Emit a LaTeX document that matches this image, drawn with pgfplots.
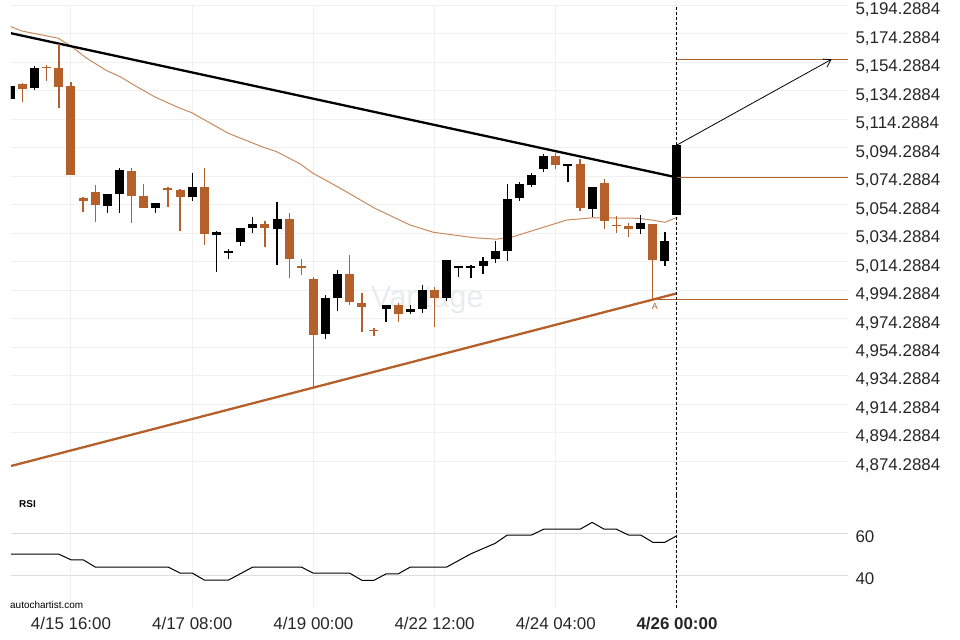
\documentclass[border=0pt]{standalone}
\usepackage{fontspec}
\setmainfont{Liberation Sans}
\usepackage{pgfplots}
\pgfplotsset{compat=1.18}
\usepackage{pgfplotstable}
\usetikzlibrary{arrows.meta}
\definecolor{cOr}{HTML}{B5602A}
\definecolor{cSma}{HTML}{C98A5E}
\definecolor{cGrid}{HTML}{F0F0F0}
\definecolor{cGrid2}{HTML}{DDDDDD}
\definecolor{cWm}{HTML}{E9EBED}

% bullish (black) candles: x, body bottom, body top, low, high
\pgfplotstableread{
x lo hi l h
0 5128.6 5137.8 5127.9 5138.5
2 5136.4 5150.4 5135.0 5151.8
8 5053.5 5061.9 5048.8 5061.9
9 5061.9 5078.8 5048.8 5080.4
12 5052.1 5055.6 5048.8 5055.6
15 5059.8 5066.8 5057.2 5076.4
17 5033.3 5035.2 5007.3 5035.7
18 5020.7 5022.1 5016.4 5023.0
19 5028.4 5038.0 5025.6 5038.0
20 5038.0 5040.8 5034.3 5045.5
22 5037.3 5044.3 5012.2 5056.1
26 4963.5 4988.8 4960.2 4990.7
27 4988.8 5005.7 4979.9 5008.5
31 4980.9 4983.9 4971.8 4983.9
33 4978.8 4981.1 4977.4 4984.1
34 4981.3 4994.4 4978.1 4997.7
36 4989.0 5015.5 4986.7 5015.5
37 5010.1 5011.1 5003.4 5011.1
38 5010.1 5011.1 5002.7 5012.2
39 5011.5 5014.8 5005.7 5017.4
40 5016.4 5022.1 5013.2 5029.1
41 5022.1 5058.4 5015.0 5068.7
42 5059.3 5068.7 5057.2 5070.3
43 5068.2 5075.2 5067.0 5076.9
44 5079.7 5088.6 5077.3 5090.0
46 5081.8 5083.0 5070.1 5083.0
48 5051.6 5066.8 5045.5 5066.8
52 5037.3 5041.5 5033.6 5046.9
54 5015.0 5028.9 5011.5 5035.4
55 5047.3 5096.3 5047.3 5096.3
}\bull

% bearish (orange) candles
\pgfplotstableread{
x lo hi l h
1 5135.7 5139.2 5126.3 5140.1
3 5150.4 5151.1 5141.5 5152.5
4 5137.1 5150.4 5122.1 5167.3
5 5075.2 5137.8 5075.2 5140.4
6 5057.0 5059.1 5049.5 5060.0
7 5054.2 5063.1 5042.4 5068.2
10 5060.5 5078.1 5041.7 5080.4
11 5052.1 5060.5 5052.1 5068.9
13 5064.7 5066.1 5053.0 5067.0
14 5059.8 5064.7 5036.1 5065.2
16 5034.0 5066.8 5026.3 5080.1
21 5038.0 5040.8 5024.9 5042.7
23 5016.2 5044.3 5003.1 5048.3
24 5010.1 5011.3 5005.2 5016.0
25 4962.8 5002.2 4925.8 5003.4
28 4986.0 5005.7 4984.1 5018.8
29 4982.7 4985.5 4965.2 4992.1
30 4965.7 4966.4 4962.1 4967.5
32 4977.8 4983.9 4971.8 4985.5
35 4988.6 4994.4 4968.7 4996.3
45 5082.5 5088.6 5079.2 5090.5
47 5052.3 5083.0 5050.2 5086.7
49 5043.1 5069.6 5037.1 5072.2
50 5039.2 5040.1 5034.7 5046.2
51 5037.5 5039.4 5031.5 5041.7
53 5015.5 5040.8 4987.9 5040.8
}\bear

\pgfplotstableread{
x y
0.05 5179.4
0.93 5176.4
3.95 5171.3
5.06 5165.4
6.3 5157.2
7.95 5148.5
9.04 5144.3
10.42 5137.3
11.93 5130.0
14.0 5122.1
14.96 5119.0
17.98 5104.5
20.87 5094.7
21.97 5091.6
23.9 5083.0
24.99 5076.3
26.1 5071.2
27.6 5064.0
30.08 5051.8
32.97 5040.1
34.89 5035.0
38.19 5031.2
40.12 5030.1
41.49 5031.9
45.9 5043.6
48.09 5045.2
51.8 5044.8
52.91 5043.6
54.0 5042.0
55.02 5045.5
}\sma

\pgfplotstableread{
x y
0.05 50.2
4 50.2
5 47.6
6 47.6
7 44.2
13 44.2
14 41.4
15 41.4
16 38.1
18 38.1
20 44.2
24 44.2
25 41.3
28 41.3
29 38.0
30 38.0
31 41.0
32 41.0
33 44.2
36 44.2
38 50.4
40 55.3
41 59.2
43 59.2
44 61.9
47 61.9
48 65.1
49 61.9
50 61.9
51 59.2
52 59.2
53 55.8
54 55.8
55 58.9
}\rsi

\pgfplotsset{
  candle/.style n args={2}{draw=none, mark=none, forget plot,
    error bars/.cd, y dir=plus, y explicit, error mark=none,
    error bar style={draw=#1, line width=#2, solid}},
}

\begin{document}
\begin{tikzpicture}
\path[use as bounding box] (0bp,0bp) rectangle (960bp,640bp);

% ---------------- price panel ----------------
\begin{axis}[
  at={(11bp,145bp)}, anchor=south west,
  scale only axis, width=837bp, height=489.5bp,
  xmin=0.05, xmax=69.11, ymin=4850.43, ymax=5194.2884,
  axis line style={draw=none}, major tick length=0pt,
  clip mode=individual,
  xtick={5,15,25,35,45,55}, xticklabels={},
  ytick={4874.2884,4894.2884,4914.2884,4934.2884,4954.2884,4974.2884,4994.2884,5014.2884,5034.2884,5054.2884,5074.2884,5094.2884,5114.2884,5134.2884,5154.2884,5174.2884,5194.2884},
  yticklabels={{4,874.2884},{4,894.2884},{4,914.2884},{4,934.2884},{4,954.2884},{4,974.2884},{4,994.2884},{5,014.2884},{5,034.2884},{5,054.2884},{5,074.2884},{5,094.2884},{5,114.2884},{5,134.2884},{5,154.2884},{5,174.2884},{5,194.2884}},
  yticklabel pos=right,
  yticklabel style={font=\fontsize{17}{20}\selectfont, anchor=west, xshift=4bp, yshift=-4.5bp, text=black!85},
  grid=major, grid style={cGrid, line width=1bp},
]
\node[text=cWm, font=\fontsize{31}{31}\selectfont] at (axis cs:34.4,4987.4) {Vantage};

\addplot[cSma, line width=1bp] table {\sma};
\addplot[black, line width=2.3bp] coordinates {(0.05,5174.8) (55,5073.5)};
\addplot[cOr, line width=2.3bp] coordinates {(0.05,4870.8) (55,4992.1)};

% wicks
\addplot[candle={black}{1.3bp}] table[x=x, y=l, y error expr={\thisrow{h}-\thisrow{l}}] {\bull};
\addplot[candle={cOr}{1.3bp}] table[x=x, y=l, y error expr={\thisrow{h}-\thisrow{l}}] {\bear};
% bodies
\addplot[candle={black}{9bp}] table[x=x, y=lo, y error expr={\thisrow{hi}-\thisrow{lo}}] {\bull};
\addplot[candle={cOr}{9bp}] table[x=x, y=lo, y error expr={\thisrow{hi}-\thisrow{lo}}] {\bear};

% levels and projection
\addplot[cOr, line width=1bp] coordinates {(55,5156.5) (69.11,5156.5)};
\addplot[cOr, line width=1bp] coordinates {(55,5073.3) (69.11,5073.3)};
\addplot[cOr, line width=1bp] coordinates {(53,4987.8) (69.11,4987.8)};
\addplot[black, line width=0.8bp, -{Straight Barb[length=7bp,width=9bp]}] coordinates {(55,5096.3) (67.76,5156.5)};
\addplot[black, line width=1bp, dash pattern=on 3bp off 2bp] coordinates {(55,4850.43) (55,5194.2884)};
\node[text=cOr, font=\fontsize{9}{9}\selectfont] at (axis cs:53.18,4983.0) {A};
\end{axis}

% ---------------- RSI panel ----------------
\begin{axis}[
  at={(11bp,31.7bp)}, anchor=south west,
  scale only axis, width=837bp, height=113.3bp,
  xmin=0.05, xmax=69.11, ymin=24.87, ymax=77.94,
  axis line style={draw=none}, major tick length=0pt,
  xtick={5,15,25,35,45,55},
  xticklabels={4/15 16:00,4/17 08:00,4/19 00:00,4/22 12:00,4/24 04:00,\textbf{4/26 00:00}},
  xticklabel style={font=\fontsize{17}{20}\selectfont, text=black!85, yshift=-5bp},
  ytick={40.2,60}, yticklabels={40,60},
  yticklabel pos=right,
  yticklabel style={font=\fontsize{17}{20}\selectfont, anchor=west, xshift=4bp, yshift=-3.5bp, text=black!85},
  xmajorgrids, ymajorgrids,
  x grid style={cGrid, line width=1bp},
  y grid style={cGrid2, line width=1bp},
]
\addplot[black, line width=1bp] table {\rsi};
\addplot[black, line width=1bp, dash pattern=on 3bp off 2bp] coordinates {(55,24.87) (55,77.94)};
\end{axis}

\node[anchor=west, font=\fontsize{10}{10}\selectfont\bfseries, inner sep=0pt] at (19bp,136bp) {RSI};
\node[anchor=west, font=\fontsize{10}{10}\selectfont, inner sep=0pt] at (10bp,35bp) {autochartist.com};
\end{tikzpicture}
\end{document}
